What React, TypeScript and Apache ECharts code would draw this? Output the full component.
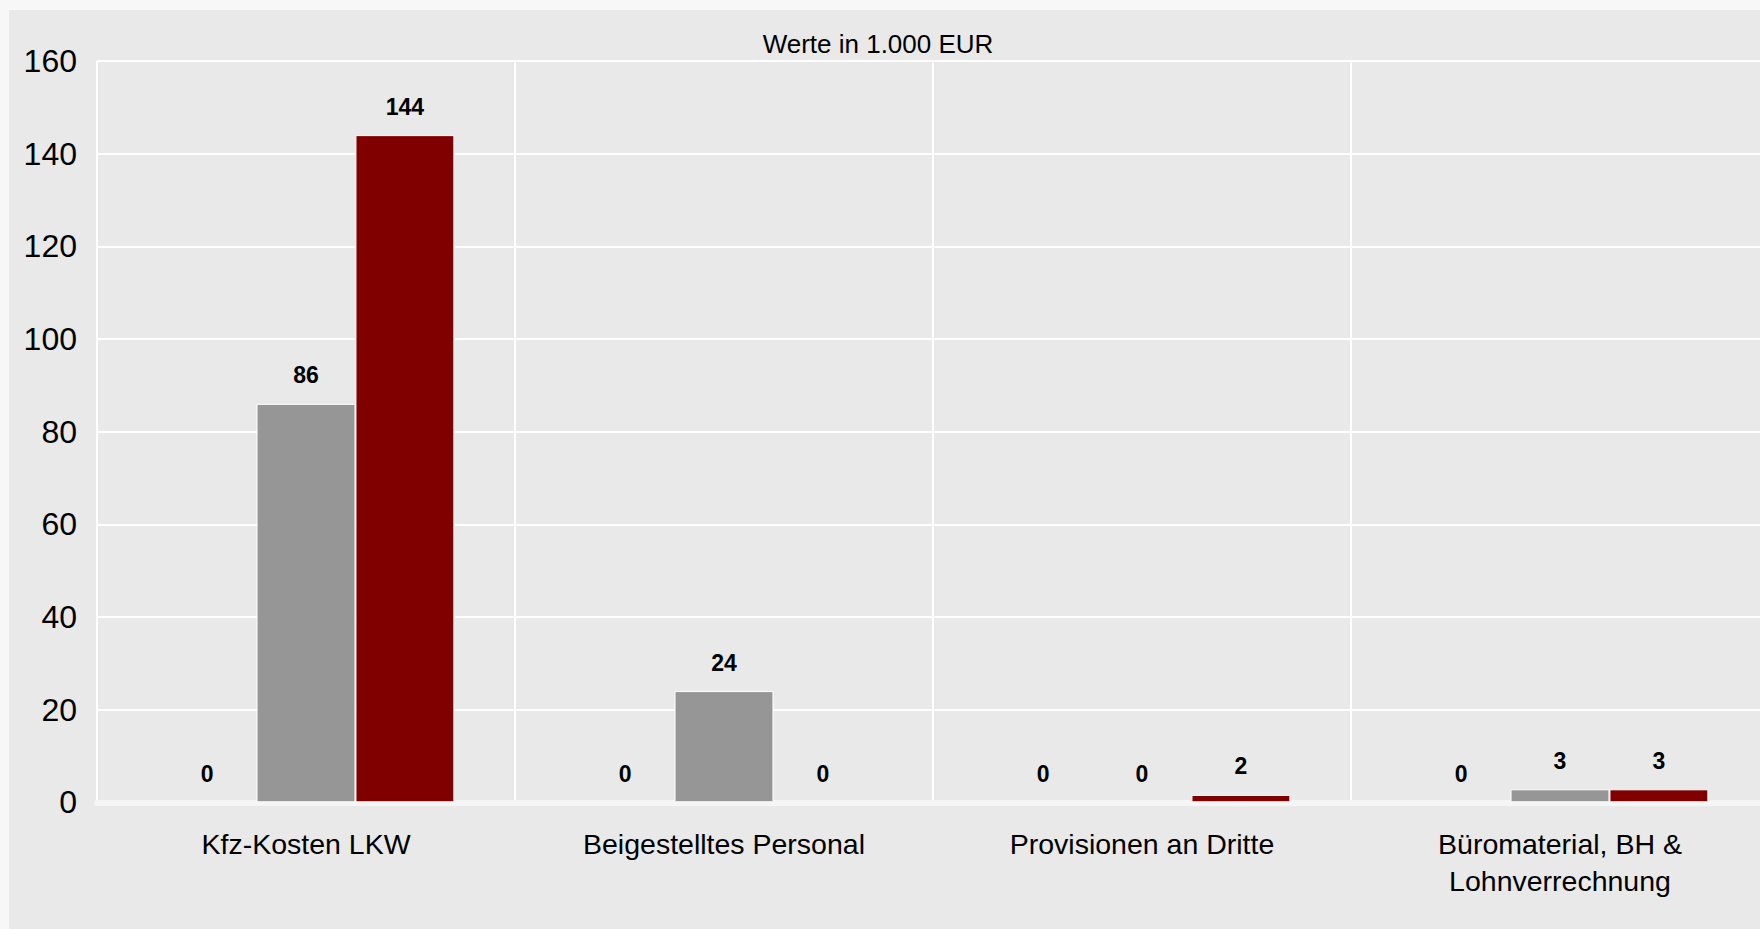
import React, { useEffect, useRef } from "react";
import * as echarts from "echarts";

const categories = [
  "Kfz-Kosten LKW",
  "Beigestelltes Personal",
  "Provisionen an Dritte",
  "Büromaterial, BH &\nLohnverrechnung",
];
const seriesA = [0, 0, 0, 0];
const seriesB = [86, 24, 0, 2.8];
const seriesC = [144, 0, 1.6, 2.8];
const seriesNames = ["Serie 1", "Serie 2", "Serie 3"];
const seriesColors = ["#5a5a5a", "#969696", "#800000"];
const yTicks = { min: 0, max: 160, interval: 20 };
const titleText = "Werte in 1.000 EUR";

export default function App() {
  const ref = useRef<HTMLDivElement>(null);
  useEffect(() => {
    if (!ref.current) return;
    const chart = echarts.init(ref.current, null, { renderer: "svg" });
    const font = "'Liberation Sans', Arial, sans-serif";
    const label = {
      show: true,
      position: "top",
      distance: 17,
      fontFamily: font,
      fontSize: 23,
      fontWeight: "bold",
      color: "#000",
      formatter: (p: any) => String(Math.round(p.value)),
    };
    const datas = [seriesA, seriesB, seriesC];
    chart.setOption({
      animation: false,
      backgroundColor: "#f7f7f7",
      graphic: [
        {
          type: "rect",
          z: -100,
          shape: { x: 9, y: 10, width: 1800, height: 1000 },
          style: { fill: "#e8e9e8" },
        },
        {
          type: "text",
          z: 100,
          x: 878,
          y: 44,
          style: {
            text: titleText,
            fontFamily: font,
            fontSize: 26,
            fill: "#000",
            textAlign: "center",
            textVerticalAlign: "middle",
          },
        },
      ],
      grid: { left: 97, right: 0, top: 61, bottom: 126.7, containLabel: false },
      xAxis: {
        type: "category",
        data: categories,
        offset: 2.5,
        axisLine: {
          show: true,
          lineStyle: { color: "#f5f5f5", width: 6, cap: "round" },
        },
        axisTick: { show: false },
        splitLine: { show: true, lineStyle: { color: "#ffffff", width: 2 } },
        axisLabel: {
          fontFamily: font,
          fontSize: 28.5,
          color: "#000",
          margin: 21,
          lineHeight: 37,
          interval: 0,
        },
      },
      yAxis: {
        type: "value",
        min: yTicks.min,
        max: yTicks.max,
        interval: yTicks.interval,
        axisLine: { show: false },
        axisTick: { show: false },
        splitLine: { show: true, lineStyle: { color: "#ffffff", width: 2 } },
        axisLabel: {
          fontFamily: font,
          fontSize: 32,
          color: "#000",
          margin: 20,
        },
      },
      series: datas.map((d, i) => ({
        type: "bar",
        name: seriesNames[i],
        data: d.map((v) =>
          v === 0 ? { value: v, itemStyle: { borderWidth: 0 } } : v
        ),
        barGap: "0%",
        barCategoryGap: "29%",
        itemStyle: {
          color: seriesColors[i],
          borderColor: "#ffffff",
          borderWidth: i === 0 ? 0 : 1,
        },
        label,
      })),
    });
    return () => chart.dispose();
  }, []);
  return (
    <div
      style={{
        position: "absolute",
        left: 0,
        top: 0,
        width: 1760,
        height: 929,
        overflow: "hidden",
      }}
    >
      <div ref={ref} style={{ width: 1769, height: 929 }} />
    </div>
  );
}
